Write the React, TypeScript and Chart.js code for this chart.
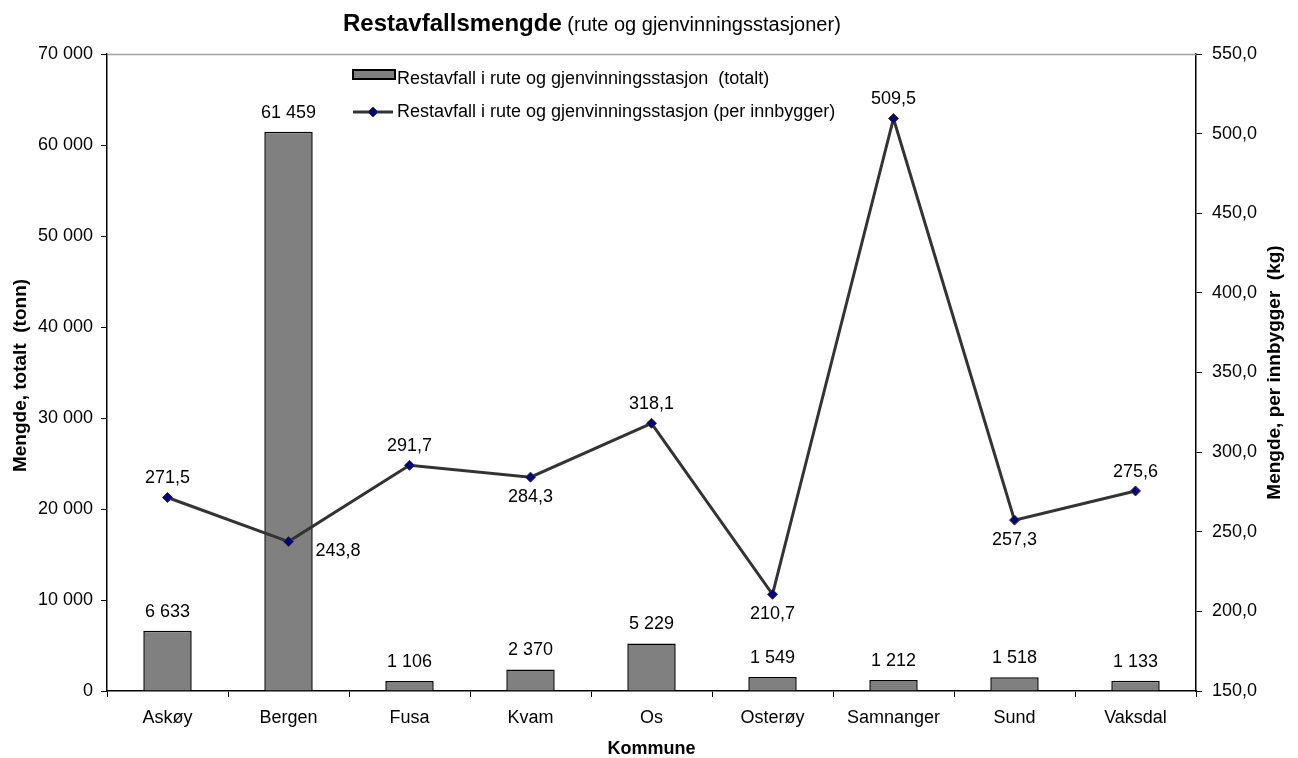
import React, { useEffect, useRef } from "react";
import { Chart, registerables } from "chart.js";

Chart.register(...registerables);

const categories = ["Askøy", "Bergen", "Fusa", "Kvam", "Os", "Osterøy", "Samnanger", "Sund", "Vaksdal"];
const totalTonn = [6633, 61459, 1106, 2370, 5229, 1549, 1212, 1518, 1133];
const perInnbygger = [271.5, 243.8, 291.7, 284.3, 318.1, 210.7, 509.5, 257.3, 275.6];
const lineLabelPos = ["above", "right", "above", "below", "above", "below", "above", "below", "above"];
const leftTicks = { min: 0, max: 70000, step: 10000 };
const rightTicks = { min: 150, max: 550, step: 50 };
const barLegend = "Restavfall i rute og gjenvinningsstasjon  (totalt)";
const lineLegend = "Restavfall i rute og gjenvinningsstasjon (per innbygger)";
const titleBold = "Restavfallsmengde";
const titleRest = " (rute og gjenvinningsstasjoner)";
const xTitle = "Kommune";
const yLeftTitle = "Mengde, totalt  (tonn)";
const yRightTitle = "Mengde, per innbygger  (kg)";

const FONT = "'Liberation Sans', Arial, sans-serif";

const fmtThousands = (v: number) => String(Math.round(v)).replace(/\B(?=(\d{3})+(?!\d))/g, " ");
const fmtDec = (v: number) => v.toFixed(1).replace(".", ",");

const overlayPlugin = {
  id: "overlay",
  afterDraw(chart: any) {
    const ctx = chart.ctx;
    const area = chart.chartArea;
    ctx.save();
    // top border
    ctx.strokeStyle = "#a0a0a0";
    ctx.lineWidth = 1.5;
    ctx.beginPath();
    ctx.moveTo(area.left, area.top + 0.5);
    ctx.lineTo(area.right, area.top + 0.5);
    ctx.stroke();

    // bar labels
    ctx.fillStyle = "#000";
    ctx.font = `18px ${FONT}`;
    ctx.textAlign = "center";
    ctx.textBaseline = "middle";
    const barMeta = chart.getDatasetMeta(0);
    barMeta.data.forEach((el: any, i: number) => {
      ctx.fillText(fmtThousands(totalTonn[i]), el.x, el.y - 19);
    });
    // line labels
    const lineMeta = chart.getDatasetMeta(1);
    lineMeta.data.forEach((el: any, i: number) => {
      const t = fmtDec(perInnbygger[i]);
      const pos = lineLabelPos[i];
      if (pos === "above") {
        ctx.textAlign = "center";
        ctx.fillText(t, el.x, el.y - 19);
      } else if (pos === "below") {
        ctx.textAlign = "center";
        ctx.fillText(t, el.x, el.y + 20);
      } else {
        ctx.textAlign = "left";
        ctx.fillText(t, el.x + 27, el.y + 9);
      }
    });

    // legend
    const lx = 353;
    const ly1 = 79;
    const ly2 = 112;
    ctx.fillStyle = "#808080";
    ctx.fillRect(lx, ly1 - 9, 42, 9);
    ctx.strokeStyle = "#000";
    ctx.lineWidth = 2;
    ctx.strokeRect(lx, ly1 - 9, 42, 9);
    ctx.strokeStyle = "#333333";
    ctx.lineWidth = 3;
    ctx.beginPath();
    ctx.moveTo(lx, ly2);
    ctx.lineTo(lx + 40, ly2);
    ctx.stroke();
    ctx.fillStyle = "#000080";
    ctx.strokeStyle = "#333";
    ctx.lineWidth = 1;
    ctx.beginPath();
    ctx.moveTo(lx + 20, ly2 - 5);
    ctx.lineTo(lx + 25, ly2);
    ctx.lineTo(lx + 20, ly2 + 5);
    ctx.lineTo(lx + 15, ly2);
    ctx.closePath();
    ctx.fill();
    ctx.stroke();
    ctx.fillStyle = "#000";
    ctx.font = `18px ${FONT}`;
    ctx.textAlign = "left";
    ctx.fillText(barLegend, lx + 44, ly1);
    ctx.fillText(lineLegend, lx + 44, ly2);

    // title
    ctx.textBaseline = "alphabetic";
    ctx.font = `bold 24px ${FONT}`;
    const wb = ctx.measureText(titleBold).width;
    const tx = 343;
    ctx.fillText(titleBold, tx, 31);
    ctx.font = `20px ${FONT}`;
    ctx.fillText(titleRest, tx + wb, 31);

    // axis titles
    ctx.font = `bold 18px ${FONT}`;
    ctx.textAlign = "center";
    ctx.textBaseline = "middle";
    ctx.fillText(xTitle, (area.left + area.right) / 2, 749);
    const cy = (area.top + area.bottom) / 2;
    ctx.font = `bold 19px ${FONT}`;
    ctx.save();
    ctx.translate(21, cy + 3);
    ctx.rotate(-Math.PI / 2);
    ctx.fillText(yLeftTitle, 0, 0);
    ctx.restore();
    ctx.save();
    ctx.translate(1275, cy);
    ctx.rotate(-Math.PI / 2);
    ctx.fillText(yRightTitle, 0, 0);
    ctx.restore();
    ctx.restore();
  },
};

export default function App() {
  const ref = useRef<HTMLCanvasElement | null>(null);
  useEffect(() => {
    if (!ref.current) return;
    const tickFont = { family: FONT, size: 18 };
    const chart = new Chart(ref.current, {
      type: "bar",
      data: {
        labels: categories,
        datasets: [
          {
            type: "bar",
            label: barLegend,
            data: totalTonn,
            backgroundColor: "#808080",
            borderColor: "#000",
            borderWidth: 1.5,
            barPercentage: 0.4,
            categoryPercentage: 1,
            yAxisID: "y",
            order: 1,
          },
          {
            type: "line",
            label: lineLegend,
            data: perInnbygger,
            borderColor: "#333333",
            borderWidth: 3,
            tension: 0,
            pointStyle: "rectRot",
            pointRadius: 5,
            pointBackgroundColor: "#000080",
            pointBorderColor: "#333",
            pointBorderWidth: 1,
            yAxisID: "y1",
            order: 0,
          } as any,
        ],
      },
      options: {
        animation: false,
        responsive: true,
        maintainAspectRatio: false,
        layout: { padding: { top: 54, left: 0, right: 0, bottom: 0 } },
        plugins: {
          legend: { display: false },
          title: { display: false },
          tooltip: { enabled: false },
        },
        scales: {
          x: {
            offset: true,
            grid: { offset: true, drawOnChartArea: false, tickLength: 6, color: "#000", tickColor: "#000" },
            border: { color: "#000", width: 1.5 },
            ticks: { font: tickFont, color: "#000", padding: 10, maxRotation: 0 },
            afterFit: (s: any) => { s.height = 67; },
          },
          y: {
            position: "left",
            min: leftTicks.min,
            max: leftTicks.max,
            grid: { drawOnChartArea: false, tickLength: 6, color: "#000", tickColor: "#000" },
            border: { color: "#000", width: 1.5 },
            ticks: { stepSize: leftTicks.step, font: tickFont, color: "#000", padding: 8, callback: (v: any) => fmtThousands(Number(v)) },
            afterFit: (s: any) => { s.width = 107; },
          },
          y1: {
            position: "right",
            min: rightTicks.min,
            max: rightTicks.max,
            grid: { drawOnChartArea: false, tickLength: 6, color: "#000", tickColor: "#000" },
            border: { color: "#000", width: 1.5 },
            ticks: { stepSize: rightTicks.step, font: tickFont, color: "#000", padding: 10, callback: (v: any) => fmtDec(Number(v)) },
            afterFit: (s: any) => { s.width = 102; },
          },
        },
      },
      plugins: [overlayPlugin],
    });
    return () => chart.destroy();
  }, []);
  return (
    <div style={{ position: "absolute", left: 0, top: 0, width: 1298, height: 758, background: "#fff" }}>
      <canvas ref={ref} />
    </div>
  );
}
